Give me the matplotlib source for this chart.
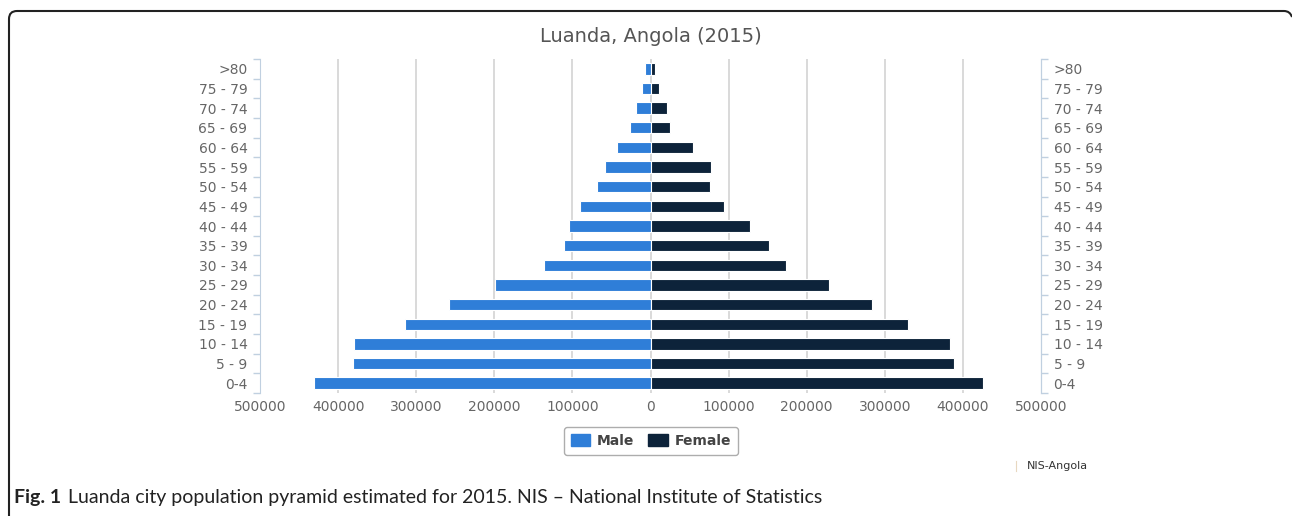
import matplotlib
matplotlib.use("Agg")
import matplotlib.pyplot as plt
from matplotlib.patches import PathPatch, Patch
from matplotlib.path import Path
from matplotlib.lines import Line2D

# age groups, bottom (youngest) to top
age_groups = ['0-4', '5 - 9', '10 - 14', '15 - 19', '20 - 24', '25 - 29', '30 - 34',
              '35 - 39', '40 - 44', '45 - 49', '50 - 54', '55 - 59', '60 - 64',
              '65 - 69', '70 - 74', '75 - 79', '>80']
male = [430800, 381300, 379100, 314100, 258200, 199200, 136400, 111000, 104700,
        90200, 68400, 58600, 43200, 26500, 18500, 10300, 6900]
female = [425500, 389200, 384100, 329500, 283000, 228300, 173300, 152000, 126800,
          93900, 76000, 77200, 53800, 25600, 20900, 10600, 5500]
x_ticks = [-500000, -400000, -300000, -200000, -100000, 0,
           100000, 200000, 300000, 400000, 500000]

W, H = 1292, 516
MALE_C = '#2f7ed8'
FEMALE_C = '#0d233a'
AXIS_C = '#c0d0e0'
LABEL_C = '#666666'


def fx(x):
    return x / W


def fy(y):
    return 1 - y / H


fig = plt.figure(figsize=(W / 100, H / 100), dpi=100)
ax = fig.add_axes([fx(260), fy(393), fx(1041) - fx(260), fy(59) - fy(393)])

pos = list(range(len(age_groups)))
ax.barh(pos, [-m for m in male], height=0.58, color=MALE_C,
        edgecolor='white', linewidth=0.8, zorder=3)
ax.barh(pos, female, height=0.58, color=FEMALE_C,
        edgecolor='white', linewidth=0.8, zorder=3)

ax.set_xlim(-500000, 500000)
ax.set_ylim(-0.5, len(age_groups) - 0.5)

ax.set_xticks(x_ticks)
ax.set_xticklabels([str(abs(t)) for t in x_ticks], color=LABEL_C, fontsize=10)
ax.tick_params(axis='x', length=0, pad=5)
for t in x_ticks[1:-1]:
    ax.axvline(t, color='#d3d3d3', linewidth=1.2, zorder=1)

ax.set_yticks(pos)
ax.set_yticklabels(age_groups, color=LABEL_C, fontsize=10)
ax.set_yticks([p - 0.5 for p in pos] + [len(pos) - 0.5], minor=True)
ax.tick_params(axis='y', which='major', length=0, pad=9)
ax.tick_params(axis='y', which='minor', length=5, color=AXIS_C, width=1)

for s in ['top', 'bottom']:
    ax.spines[s].set_visible(False)
ax.spines['left'].set_color(AXIS_C)
ax.spines['right'].set_color(AXIS_C)

# right-hand copy of the age axis
ax2 = ax.twinx()
ax2.set_ylim(ax.get_ylim())
ax2.set_yticks(pos)
ax2.set_yticklabels(age_groups, color=LABEL_C, fontsize=10)
ax2.set_yticks([p - 0.5 for p in pos] + [len(pos) - 0.5], minor=True)
ax2.tick_params(axis='y', which='major', length=0, pad=9)
ax2.tick_params(axis='y', which='minor', length=5, color=AXIS_C, width=1)
for s in ['top', 'bottom', 'left']:
    ax2.spines[s].set_visible(False)
ax2.spines['right'].set_color(AXIS_C)
for lbl in ax2.get_yticklabels():
    lbl.set_horizontalalignment('left')

fig.text(fx(651), fy(37), 'Luanda, Angola (2015)', ha='center', va='center',
         fontsize=14, color='#555555')

handles = [Patch(facecolor=MALE_C, edgecolor=MALE_C, label='Male'),
           Patch(facecolor=FEMALE_C, edgecolor=FEMALE_C, label='Female')]
leg = fig.legend(handles=handles, loc='center', bbox_to_anchor=(fx(651), fy(441)),
                 ncol=2, frameon=True, fancybox=True, fontsize=10,
                 handlelength=1.4, handleheight=1.0, columnspacing=1.0,
                 handletextpad=0.5, borderpad=0.5)
leg.get_frame().set_edgecolor('#999999')
leg.get_frame().set_linewidth(1.0)
for t in leg.get_texts():
    t.set_color('#444444')
    t.set_fontweight('bold')

fig.add_artist(Line2D([fx(1016), fx(1016)], [fy(461), fy(471)],
                      color='#e8d8c0', linewidth=0.8))
fig.text(fx(1027), fy(466), 'NIS-Angola', ha='left', va='center',
         fontsize=8, color='#333333')

# caption: bold label, then the rest right after it
cap = fig.text(fx(14), fy(497), 'Fig. 1', ha='left', va='center',
               fontsize=14, fontweight='bold', family='Lato', color='#222222')
renderer = fig.canvas.get_renderer()
cap_end = cap.get_window_extent(renderer).x1
fig.text((cap_end + 7) / W, fy(497),
         'Luanda city population pyramid estimated for 2015. NIS \u2013 National Institute of Statistics',
         ha='left', va='center', fontsize=14, family='Lato', color='#222222')

# figure frame: left and top, rounded corners
verts = [(fx(9), fy(516)), (fx(9), fy(19)), (fx(9), fy(11)), (fx(17), fy(11)),
         (fx(1284), fy(11)), (fx(1290), fy(11)), (fx(1292), fy(17))]
codes = [Path.MOVETO, Path.LINETO, Path.CURVE3, Path.CURVE3,
         Path.LINETO, Path.CURVE3, Path.CURVE3]
fig.add_artist(PathPatch(Path(verts, codes), transform=fig.transFigure,
                         facecolor='none', edgecolor='#222222', linewidth=1.5))

fig.savefig('out.png', dpi=100)
